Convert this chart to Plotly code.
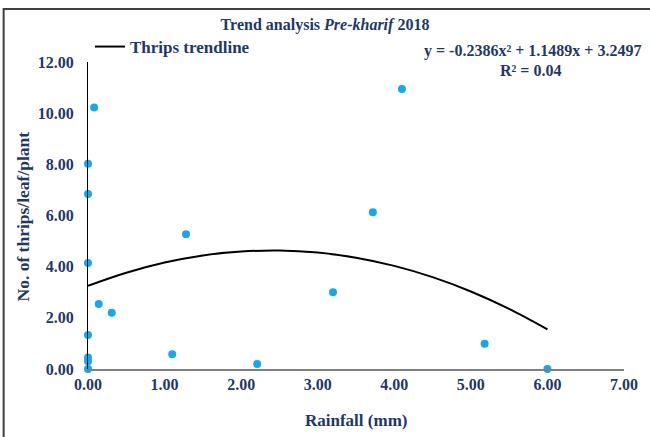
import plotly.graph_objects as go

# Observed data (rainfall mm vs thrips/leaf/plant)
rainfall = [0.0, 0.0, 0.0, 0.0, 0.0, 0.0, 0.0, 0.08, 0.14, 0.31, 1.10, 1.28, 2.21, 3.20, 3.72, 4.10, 5.18, 6.00]
thrips = [0.0, 0.45, 0.30, 1.33, 4.14, 6.84, 8.02, 10.22, 2.54, 2.20, 0.58, 5.27, 0.20, 3.00, 6.13, 10.94, 0.99, 0.00]

# Trendline values
trend_x = [0.0, 0.5, 1.0, 1.5, 2.0, 2.5, 3.0, 3.5, 4.0, 4.5, 5.0, 5.5, 6.0]
trend_y = [3.25, 3.76, 4.16, 4.44, 4.59, 4.63, 4.55, 4.35, 4.03, 3.59, 3.03, 2.35, 1.55]

x_ticks = [0, 1, 2, 3, 4, 5, 6, 7]
y_ticks = [0, 2, 4, 6, 8, 10, 12]

NAVY = "#1F3864"
FONT = "Liberation Serif"

fig = go.Figure()
fig.add_trace(go.Scatter(
    x=rainfall, y=thrips, mode="markers",
    marker=dict(color="#1DA5EA", size=8),
    showlegend=False, cliponaxis=False, name="Thrips",
))
fig.add_trace(go.Scatter(
    x=trend_x, y=trend_y, mode="lines",
    line=dict(color="black", width=2, shape="spline"),
    name="Thrips trendline", showlegend=True,
))

L, R, T, B = 88, 22, 62, 68
W, H = 650, 437
pw, ph = W - L - R, H - T - B

def px(xp):
    return (xp - L) / pw

def py(yp):
    return (H - B - yp) / ph

fig.update_layout(
    width=W, height=H,
    margin=dict(l=L, r=R, t=T, b=B),
    paper_bgcolor="white", plot_bgcolor="white",
    font=dict(family=FONT, color=NAVY, size=15),
    title=dict(text="<b>Trend analysis <i>Pre-kharif</i> 2018</b>",
               x=0.5, xref="container", xanchor="center",
               y=1 - 24 / H, yanchor="middle", yref="container",
               font=dict(family=FONT, size=16, color=NAVY)),
    legend=dict(x=px(90), y=py(47), xanchor="left", yanchor="middle",
                bgcolor="rgba(0,0,0,0)",
                font=dict(family=FONT, size=17, color=NAVY, weight="bold"),
                itemwidth=30),
    xaxis=dict(range=[0, 7], tickvals=x_ticks,
               ticktext=[f"<b>{v:.2f}</b>" for v in x_ticks],
               showgrid=False, zeroline=False, showline=True,
               linecolor="#808080", linewidth=1.5, ticks="",
               tickfont=dict(family=FONT, size=16, color=NAVY)),
    yaxis=dict(range=[0, 12], tickvals=y_ticks,
               ticktext=[f"<b>{v:.2f}</b>" for v in y_ticks],
               showgrid=False, zeroline=False, showline=True,
               linecolor="black", linewidth=1, ticks="",
               ticklabelstandoff=10,
               tickfont=dict(family=FONT, size=16, color=NAVY)),
    annotations=[
        dict(text="<b>y = -0.2386x² + 1.1489x + 3.2497</b>", xref="paper", yref="paper",
             x=px(647), y=py(51), xanchor="right", yanchor="middle", showarrow=False,
             font=dict(family=FONT, size=16, color=NAVY)),
        dict(text="<b>R² = 0.04</b>", xref="paper", yref="paper",
             x=px(534), y=py(70), xanchor="center", yanchor="middle", showarrow=False,
             font=dict(family=FONT, size=16, color=NAVY)),
        dict(text="<b>No. of thrips/leaf/plant</b>", xref="paper", yref="paper",
             x=px(23), y=py(216), xanchor="center", yanchor="middle", showarrow=False,
             textangle=-90, font=dict(family=FONT, size=17.5, color=NAVY)),
        dict(text="<b>Rainfall (mm)</b>", xref="paper", yref="paper",
             x=0.5, y=py(420), xanchor="center", yanchor="middle", showarrow=False,
             font=dict(family=FONT, size=17, color=NAVY)),
    ],
    shapes=[
        dict(type="rect", xref="paper", yref="paper", layer="above",
             x0=px(3), x1=px(W + 10), y0=py(9), y1=py(H + 10),
             line=dict(color="#404040", width=2), fillcolor="rgba(0,0,0,0)"),
    ],
)

fig.write_html(
    "out.html",
    config={"displayModeBar": False},
    post_script="document.body.style.margin='0';document.body.style.overflow='hidden';",
)
